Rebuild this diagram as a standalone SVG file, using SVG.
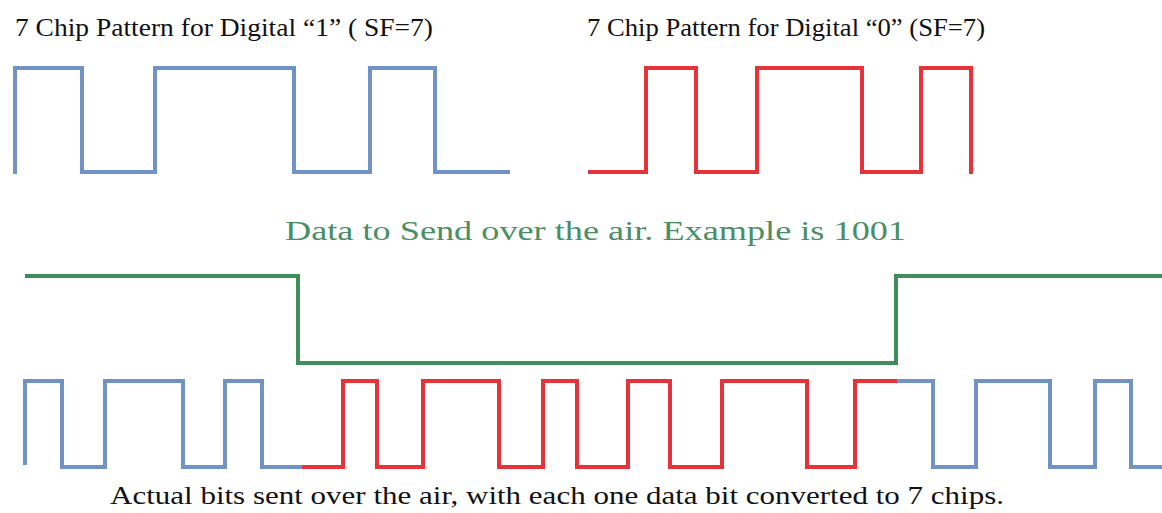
<svg xmlns="http://www.w3.org/2000/svg" width="1162" height="513" viewBox="0 0 1162 513">
<style>
.w{fill:none;stroke-width:4;stroke-linejoin:miter;stroke-linecap:butt}
.b{stroke:#6f93c6}
.r{stroke:#e5323b}
.g{stroke:#3f8d5a}
.t{font-family:"Liberation Serif","Times New Roman",serif;fill:#111}
</style>
<rect width="1162" height="513" fill="#fff"/>
<g id="title1"><text class="t" x="15" y="36" font-size="24.5" textLength="418" lengthAdjust="spacingAndGlyphs">7 Chip Pattern for Digital “1” ( SF=7)</text></g>
<g id="title0"><text class="t" x="587" y="36" font-size="24.5" textLength="398" lengthAdjust="spacingAndGlyphs">7 Chip Pattern for Digital “0” (SF=7)</text></g>
<g id="pattern1"><path class="w b" d="M15,174 V68 H82 V172 H155 V68 H294 V172 H370 V68 H435 V172 H510"/></g>
<g id="pattern0"><path class="w r" d="M588,172 H646 V68 H696 V172 H757 V68 H862 V172 H921 V68 H971 V174"/></g>
<g id="datalabel"><text class="t" x="285" y="240" font-size="26.5" style="fill:#4a8f63" textLength="621" lengthAdjust="spacingAndGlyphs">Data to Send over the air. Example is 1001</text></g>
<g id="data"><path class="w g" d="M25,276 H298 V363 H896 V276 H1162"/></g>
<g id="chips">
<path class="w b" d="M25,465 V381 H62 V467 H105 V381 H183 V467 H225 V381 H262 V467 H302"/>
<path class="w r" d="M302,467 H343 V381 H377 V467 H423 V381 H499 V467 H543 V381 H577 V467 H628 V381 H670 V467 H722 V381 H807 V467 H855 V381 H897"/>
<path class="w b" d="M897,381 H933 V467 H976 V381 H1050 V467 H1095 V381 H1131 V467 H1162"/>
</g>
<g id="chiplabel"><text class="t" x="110" y="504" font-size="25" textLength="894" lengthAdjust="spacingAndGlyphs">Actual bits sent over the air, with each one data bit converted to 7 chips.</text></g>
</svg>
